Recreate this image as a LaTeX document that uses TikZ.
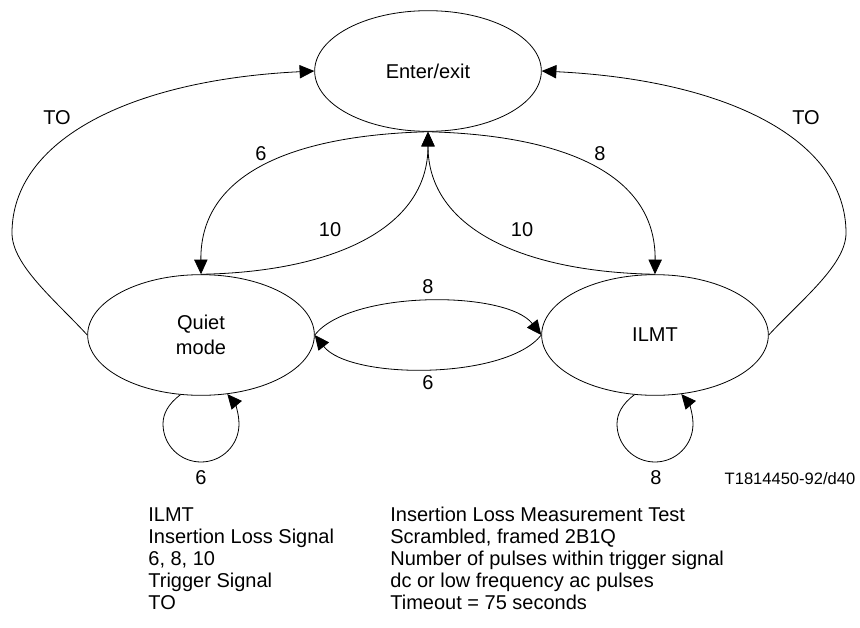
\documentclass[tikz,border=0pt]{standalone}
\usepackage{fontspec}
\setmainfont{Liberation Sans}
\usetikzlibrary{shapes.geometric,arrows.meta}
\begin{document}
\begin{tikzpicture}[x=0.75pt,y=-0.75pt, line width=0.6pt,
 state/.style={draw, ellipse, inner sep=0pt, minimum width=170pt, minimum height=90.5pt, font=\fontsize{15}{18.75}\selectfont, align=center},
 lbl/.style={font=\fontsize{15}{18}\selectfont, inner sep=0pt},
 legend/.style={font=\fontsize{15}{16.5}\selectfont, inner sep=0pt, align=left, anchor=north west},
 arr/.style={-{Triangle[length=11pt,width=10pt]}}]
\useasboundingbox (0,0) rectangle (860,628);
\node[state] (E) at (428,71) {Enter/exit};
\node[state] (Q) at (201,335) {Quiet\\mode};
\node[state] (I) at (655,335) {ILMT};

% timeouts
\draw[arr] (Q.west) .. controls (55,300) and (12,265) .. (12,233) .. controls (12,140) and (130,80) .. (E.west);
\draw[arr] (I.east) .. controls (801,300) and (846,265) .. (846,233) .. controls (846,140) and (728,80) .. (E.east);

% enter/exit <-> quiet
\draw[arr] (E.south) .. controls (300,135) and (200,170) .. (Q.north);
\draw[arr] (Q.north) .. controls (330,272) and (428,230) .. (E.south);
% enter/exit <-> ILMT
\draw[arr] (E.south) .. controls (556,135) and (656,170) .. (I.north);
\draw[arr] (I.north) .. controls (526,272) and (428,230) .. (E.south);

% quiet <-> ILMT
\draw[arr] (Q.east) .. controls (350,290) and (506,290) .. (I.west);
\draw[arr] (I.west) .. controls (506,380) and (350,380) .. (Q.east);

% self loops
\draw[arr] (Q.-109) .. controls (168,404) and (163,414) .. (163,424) .. controls (163,445) and (180,462) .. (201,462) .. controls (222,462) and (239,445) .. (239,424) .. controls (239,412) and (234,402) .. (Q.-66);
\draw[arr] (I.-109) .. controls (622,404) and (617,414) .. (617,424) .. controls (617,445) and (634,462) .. (655,462) .. controls (676,462) and (693,445) .. (693,424) .. controls (693,412) and (688,402) .. (I.-66);

% labels
\node[lbl] (toL) at (57,118) {TO};
\node[lbl] (toR) at (806,118) {TO};
\node[lbl] (l6a) at (261,154) {6};
\node[lbl] (l8a) at (600,154) {8};
\node[lbl] (l10a) at (330,230) {10};
\node[lbl] (l10b) at (522,230) {10};
\node[lbl] (l8b) at (428,287) {8};
\node[lbl] (l6b) at (428,383) {6};
\node[lbl] (l6c) at (201,478) {6};
\node[lbl] (l8c) at (656,478) {8};
\node[lbl, font=\fontsize{12.4}{14}\selectfont] (fig) at (790,479) {T1814450-92/d40};

% legend
\node[legend] (legL) at (148,507) {ILMT\\Insertion Loss Signal\\6, 8, 10\\Trigger Signal\\TO};
\node[legend] (legR) at (390,507) {Insertion Loss Measurement Test\\Scrambled, framed 2B1Q\\Number of pulses within trigger signal\\dc or low frequency ac pulses\\Timeout = 75 seconds};
\end{tikzpicture}
\end{document}
